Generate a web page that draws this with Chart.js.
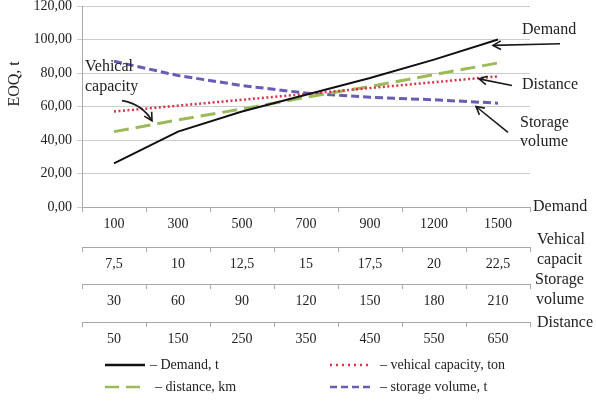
<!DOCTYPE html>
<html><head><meta charset="utf-8">
<style>html,body{margin:0;padding:0;background:#fff}#wrap{width:596px;height:402px;position:relative}</style>
<script src="https://cdn.jsdelivr.net/npm/chart.js@4/dist/chart.umd.min.js"></script>
</head><body><div id="wrap"><canvas id="c" width="596" height="402"></canvas></div>
<script>
// ---- data ----
const demandLabels   = ['100','300','500','700','900','1200','1500'];
const vehicleLabels  = ['7,5','10','12,5','15','17,5','20','22,5'];
const storageLabels  = ['30','60','90','120','150','180','210'];
const distanceLabels = ['50','150','250','350','450','550','650'];
const demandValues   = [26, 45, 57, 67, 77, 88, 100];
const vehicleValues  = [57, 60.5, 64, 67.5, 71, 74.5, 78];
const distanceValues = [45, 52, 58.5, 65.5, 72, 79, 86];
const storageValues  = [87, 78.5, 72.5, 68, 65.5, 64, 62];
const seriesNames = ['– Demand, t', '– vehical capacity, ton', '– distance, km', '– storage volume, t'];
const rowNames = [['Demand'], ['Vehical', 'capacit'], ['Storage', 'volume'], ['Distance']];

// ---- style ----
const serif = "'Liberation Serif', 'Times New Roman', serif";
const gridCol = '#cccccc', axisCol = '#a8a8a8', textCol = '#222';

function xAxis(labels, h, w) {
  return {
    type: 'category', position: 'bottom', labels: labels, offset: true, weight: w,
    grid: { offset: true, drawOnChartArea: false, drawTicks: true, tickLength: 5, color: axisCol },
    border: { display: true, color: axisCol },
    ticks: { font: { family: serif, size: 14 }, color: textCol, padding: 4, maxRotation: 0, autoSkip: false },
    afterFit: s => { s.height = h; }
  };
}

function arrow(ctx, x1, y1, x2, y2, cx, cy) {
  ctx.beginPath();
  ctx.moveTo(x1, y1);
  let ang;
  if (cx !== undefined) { ctx.quadraticCurveTo(cx, cy, x2, y2); ang = Math.atan2(y2 - cy, x2 - cx); }
  else { ctx.lineTo(x2, y2); ang = Math.atan2(y2 - y1, x2 - x1); }
  ctx.stroke();
  const L = 9, s = 0.5;
  ctx.beginPath();
  ctx.moveTo(x2 - L * Math.cos(ang - s), y2 - L * Math.sin(ang - s));
  ctx.lineTo(x2, y2);
  ctx.lineTo(x2 - L * Math.cos(ang + s), y2 - L * Math.sin(ang + s));
  ctx.stroke();
}

const notes = {
  id: 'notes',
  afterDraw(chart) {
    const { ctx, chartArea: a, scales } = chart;
    const x = scales.x, y = scales.y;
    ctx.save();
    ctx.fillStyle = textCol;
    ctx.textBaseline = 'middle';
    // y title
    ctx.save();
    ctx.translate(15, y.getPixelForValue(73.5));
    ctx.rotate(-Math.PI / 2);
    ctx.textAlign = 'center';
    ctx.font = `16px ${serif}`;
    ctx.fillText('EOQ, t', 0, 0);
    ctx.restore();
    // row names on the right
    ctx.font = `16px ${serif}`;
    ctx.textAlign = 'left';
    const rx = a.right;
    ctx.fillText(rowNames[0][0], rx + 3, scales.x.top);
    ctx.fillText(rowNames[1][0], rx + 7, scales.x2.top - 7);
    ctx.fillText(rowNames[1][1], rx + 7, scales.x2.top + 13);
    ctx.fillText(rowNames[2][0], rx + 5, scales.x3.top - 4);
    ctx.fillText(rowNames[2][1], rx + 6, scales.x3.top + 16);
    ctx.fillText(rowNames[3][0], rx + 7, scales.x4.top + 1);
    // in-chart annotations
    ctx.fillText('Demand', a.right - 8, y.getPixelForValue(106));
    ctx.fillText('Distance', a.right - 8, y.getPixelForValue(73));
    ctx.fillText('Storage', a.right - 10, y.getPixelForValue(50.5));
    ctx.fillText('volume', a.right - 10, y.getPixelForValue(39));
    ctx.fillText('Vehical', a.left + 3, y.getPixelForValue(83.5));
    ctx.fillText('capacity', a.left + 3, y.getPixelForValue(71.5));
    ctx.strokeStyle = '#1a1a1a';
    ctx.lineWidth = 1.6;
    const xe = x.getPixelForValue(6);
    arrow(ctx, a.right + 30, y.getPixelForValue(97.5), xe - 5, y.getPixelForValue(96.5));
    arrow(ctx, a.right - 18, y.getPixelForValue(72.5), xe - 19, y.getPixelForValue(76.5));
    arrow(ctx, a.right - 22, y.getPixelForValue(44.5), xe - 22, y.getPixelForValue(60));
    const x1 = x.getPixelForValue(1);
    arrow(ctx, a.left + 40, y.getPixelForValue(63.5), x1 - 26, y.getPixelForValue(51.5), a.left + 60, y.getPixelForValue(61.5));
    // legend
    const ds = chart.data.datasets;
    const ly1 = scales.x4.bottom + 15, ly2 = ly1 + 22;
    const items = [
      [ds[0], a.left + 23, ly1, a.left + 68],
      [ds[1], a.left + 248, ly1, a.left + 298],
      [ds[2], a.left + 23, ly2, a.left + 73],
      [ds[3], a.left + 248, ly2, a.left + 298]
    ];
    const legendDash = [[], [2, 4], [14, 7], [7, 4]];
    ctx.font = `14px ${serif}`;
    items.forEach((it, i) => {
      const d = it[0];
      ctx.save();
      ctx.strokeStyle = d.borderColor;
      ctx.lineWidth = 2.5;
      ctx.setLineDash(legendDash[i]);
      ctx.beginPath();
      ctx.moveTo(it[1], it[2]);
      ctx.lineTo(it[1] + 40, it[2]);
      ctx.stroke();
      ctx.restore();
      ctx.fillText(seriesNames[i], it[3], it[2]);
    });
    ctx.restore();
  }
};

function line(data, color, width, dash) {
  return { data: data, borderColor: color, backgroundColor: color, borderWidth: width, borderDash: dash,
    pointRadius: 0, tension: 0, fill: false, borderCapStyle: 'butt' };
}

new Chart(document.getElementById('c'), {
  type: 'line',
  data: {
    labels: demandLabels,
    datasets: [
      line(demandValues, '#111111', 2, []),
      line(vehicleValues, '#d9334a', 2.5, [2, 2.5]),
      line(distanceValues, '#9bbb59', 3, [15, 7]),
      line(storageValues, '#6b5bb5', 3, [8, 4])
    ]
  },
  options: {
    responsive: false, animation: false, devicePixelRatio: 1,
    layout: { padding: { left: 0, right: 66, top: 0, bottom: 52 } },
    plugins: { legend: { display: false }, tooltip: { enabled: false } },
    scales: {
      x: xAxis(demandLabels, 40, 0),
      x2: xAxis(vehicleLabels, 37, 1),
      x3: xAxis(storageLabels, 38, 2),
      x4: xAxis(distanceLabels, 28, 3),
      y: {
        min: 0, max: 120,
        ticks: { stepSize: 20, font: { family: serif, size: 14 }, color: textCol, padding: 5,
          callback: v => v.toFixed(2).replace('.', ',') },
        grid: { color: gridCol, tickLength: 5, drawTicks: true },
        border: { display: true, color: axisCol },
        afterFit: s => { s.width = 82; s.paddingTop = 6; }
      }
    }
  },
  plugins: [notes]
});
</script>
</body></html>
